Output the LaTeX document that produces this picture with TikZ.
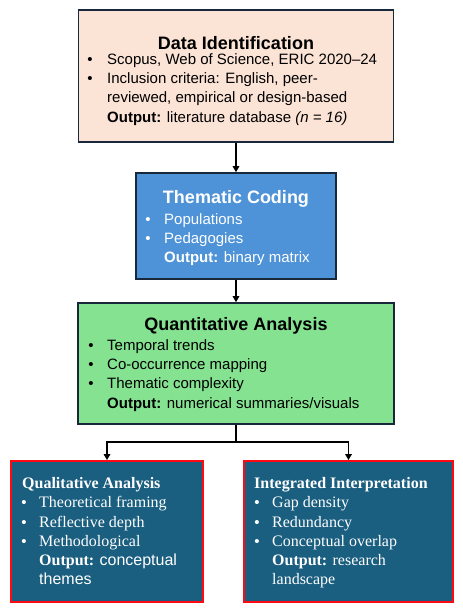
\documentclass[tikz,border=0pt]{standalone}
\usepackage{fontspec}
\setmainfont{Liberation Sans}
\newfontfamily\serifface{Liberation Serif}
\usetikzlibrary{arrows.meta}
\definecolor{peach}{HTML}{FBE3D6}
\definecolor{midblue}{HTML}{4E93D8}
\definecolor{lgreen}{HTML}{84E291}
\definecolor{teal}{HTML}{1A5E80}
\definecolor{outline}{HTML}{17283A}
\definecolor{redline}{HTML}{FF0A14}
\begin{document}
\begin{tikzpicture}[x=1pt,y=-1pt,
  box/.style={draw=outline, line width=1.6pt, inner sep=0pt},
  redbox/.style={draw=redline, line width=1.8pt, fill=teal, inner sep=0pt},
  txt/.style={anchor=base west, inner sep=0pt, font=\fontsize{15}{18}\selectfont},
  ttl/.style={anchor=base, inner sep=0pt, font=\fontsize{18}{21}\selectfont\bfseries},
  bul/.style={anchor=base, inner sep=0pt, font=\fontsize{15}{18}\selectfont},
  stxt/.style={anchor=base west, inner sep=0pt, text=white, font=\fontsize{16}{19}\selectfont\serifface},
  sttl/.style={anchor=base west, inner sep=0pt, text=white, font=\fontsize{16}{19}\selectfont\serifface\bfseries},
  sbul/.style={anchor=base, inner sep=0pt, text=white, font=\fontsize{15}{18}\selectfont},
  arr/.style={line width=1.6pt, -{Triangle[length=6pt,width=6.5pt]}},
  link/.style={line width=1.6pt}]
\useasboundingbox (0,0) rectangle (463,611);
\fill[white] (0,0) rectangle (463,611);
% boxes
\node[box, fill=peach, minimum width=315pt, minimum height=132pt] (b1) at (236,76) {};
\node[box, fill=midblue, minimum width=200pt, minimum height=106pt] (b2) at (236,226) {};
\node[box, fill=lgreen, minimum width=316pt, minimum height=121pt] (b3) at (236,363.5) {};
\node[redbox, minimum width=192pt, minimum height=141pt] (b4) at (107,531.5) {};
\node[redbox, minimum width=209pt, minimum height=141pt] (b5) at (348.5,531.5) {};
% connectors
\draw[arr] (b1.south) -- (b1.south |- b2.north);
\draw[arr] (b2.south) -- (b2.south |- b3.north);
\coordinate (j) at (236,442);
\draw[link] (b3.south -| j) -- (j);
\draw[arr] (j) -| (b4.north);
\draw[arr] (j) -| (b5.north);
% box 1 text
\node[ttl] (t1) at (236,49) {Data Identification};
\node[bul] (p11) at (90,64) {•};
\node[txt] (l11) at (107,64) {Scopus, Web of Science, ERIC 2020–24};
\node[bul] (p12) at (90,83) {•};
\node[txt] (l12) at (107,83) {Inclusion criteria: English, peer-};
\node[txt] (l13) at (107,102) {reviewed, empirical or design-based};
\node[txt] (l14) at (107,122) {\textbf{Output:} literature database \textit{(n = 16)}};
% box 2 text
\node[ttl, text=white] (t2) at (236,203) {Thematic Coding};
\node[bul, text=white] (p21) at (148,224) {•};
\node[txt, text=white] (l21) at (164,224) {Populations};
\node[bul, text=white] (p22) at (148,243) {•};
\node[txt, text=white] (l22) at (164,243) {Pedagogies};
\node[txt, text=white] (l23) at (164,262) {\textbf{Output:} binary matrix};
% box 3 text
\node[ttl] (t3) at (236,330) {Quantitative Analysis};
\node[bul] (p31) at (91,350) {•};
\node[txt] (l31) at (107,350) {Temporal trends};
\node[bul] (p32) at (91,369) {•};
\node[txt] (l32) at (107,369) {Co-occurrence mapping};
\node[bul] (p33) at (91,388) {•};
\node[txt] (l33) at (107,388) {Thematic complexity};
\node[txt] (l34) at (107,408) {\textbf{Output:} numerical summaries/visuals};
% box 4 text
\node[sttl] (t4) at (22,488) {Qualitative Analysis};
\node[sbul] (p41) at (24,507) {•};
\node[stxt] (l41) at (39,507) {Theoretical framing};
\node[sbul] (p42) at (24,527) {•};
\node[stxt] (l42) at (39,527) {Reflective depth};
\node[sbul] (p43) at (24,546) {•};
\node[stxt] (l43) at (39,546) {Methodological};
\node[stxt] (l44) at (39,565) {\textbf{Output:} {\rmfamily conceptual}};
\node[stxt] (l45) at (39,584) {\rmfamily themes};
% box 5 text
\node[sttl] (t5) at (254,488) {Integrated Interpretation};
\node[sbul] (p51) at (257,507) {•};
\node[stxt] (l51) at (272,507) {Gap density};
\node[sbul] (p52) at (257,527) {•};
\node[stxt] (l52) at (272,527) {Redundancy};
\node[sbul] (p53) at (257,546) {•};
\node[stxt] (l53) at (272,546) {Conceptual overlap};
\node[stxt] (l54) at (272,565) {\textbf{Output:} research};
\node[stxt] (l55) at (272,584) {landscape};
\end{tikzpicture}
\end{document}
